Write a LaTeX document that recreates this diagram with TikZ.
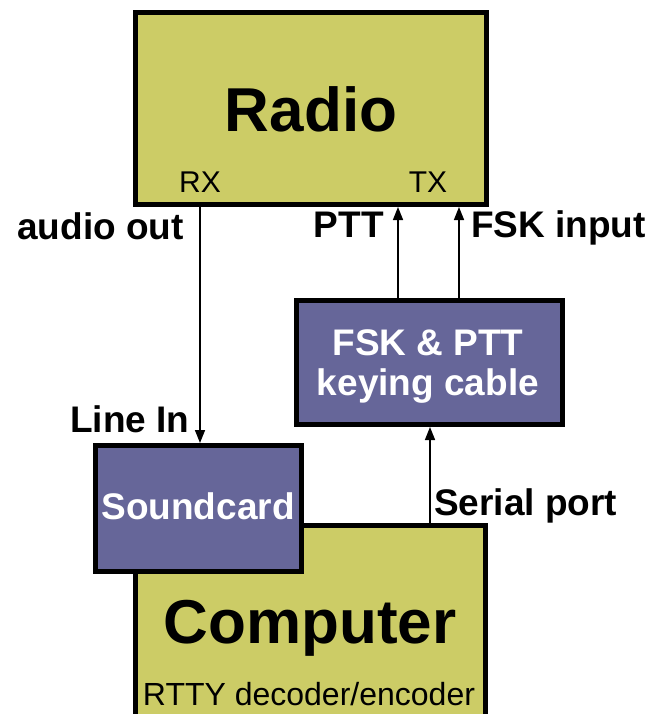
\documentclass[tikz,border=0pt]{standalone}
\usepackage{fontspec}
\setmainfont{Liberation Sans}
\usetikzlibrary{arrows.meta}
\definecolor{olivebox}{RGB}{204,204,102}
\definecolor{purplebox}{RGB}{102,102,153}
\begin{document}
\begin{tikzpicture}[x=1pt,y=-1pt,
  box/.style={draw=black,line width=5pt,inner sep=0pt,rectangle},
  olive/.style={box,fill=olivebox},
  purple/.style={box,fill=purplebox},
  big/.style={inner sep=0pt,font=\fontsize{62}{70}\selectfont\bfseries},
  port/.style={inner sep=0pt,font=\fontsize{30}{34}\selectfont},
  lbl/.style={inner sep=0pt,font=\fontsize{37}{41}\selectfont\bfseries},
  wlbl/.style={lbl,text=white},
  arr/.style={line width=1.5pt,-{Triangle[length=13pt,width=10pt]}}]
\useasboundingbox (0,0) rectangle (649,714);
\clip (0,0) rectangle (649,714);
% boxes
\node[olive,minimum width=351pt,minimum height=192pt] (radio) at (311,108.5) {};
\node[purple,minimum width=266pt,minimum height=124pt] (fsk) at (429.5,362.5) {};
\node[olive,minimum width=350pt,minimum height=214pt] (comp) at (310.5,632.75) {};
\node[purple,minimum width=206pt,minimum height=126pt] (sound) at (198.5,508.5) {};
% texts
\node[big,anchor=base] (radiot) at (311,132) {Radio};
\node[port,anchor=base] (rx) at (200,193) {RX};
\node[port,anchor=base] (tx) at (428,193) {TX};
\node[big,anchor=base] (compt) at (310,643) {Computer};
\node[port,anchor=base,font=\fontsize{32}{35}\selectfont] (rtty) at (309,705) {RTTY decoder/encoder};
\node[wlbl,anchor=base] (soundt) at (198,519) {Soundcard};
\node[wlbl,anchor=base] (fskt1) at (428,355) {FSK \& PTT};
\node[wlbl,anchor=base] (fskt2) at (428,395) {keying cable};
\node[lbl,anchor=base east] (audio) at (184,239) {audio out};
\node[lbl,anchor=base east] (ptt) at (384,237) {PTT};
\node[lbl,anchor=base west] (fskin) at (471,237) {FSK input};
\node[lbl,anchor=base] (linein) at (130,432) {Line In};
\node[lbl,anchor=base west] (serial) at (434,515) {Serial port};
% connector x positions
\coordinate (xrx) at (200,0);
\coordinate (xptt) at (398,0);
\coordinate (xfsk) at (459,0);
\coordinate (xser) at (430,0);
% connectors
\draw[arr] (radio.south -| xrx) -- (sound.north -| xrx);
\draw[arr] (fsk.north -| xptt) -- (radio.south -| xptt);
\draw[arr] (fsk.north -| xfsk) -- (radio.south -| xfsk);
\draw[arr] (comp.north -| xser) -- (fsk.south -| xser);
\end{tikzpicture}
\end{document}
